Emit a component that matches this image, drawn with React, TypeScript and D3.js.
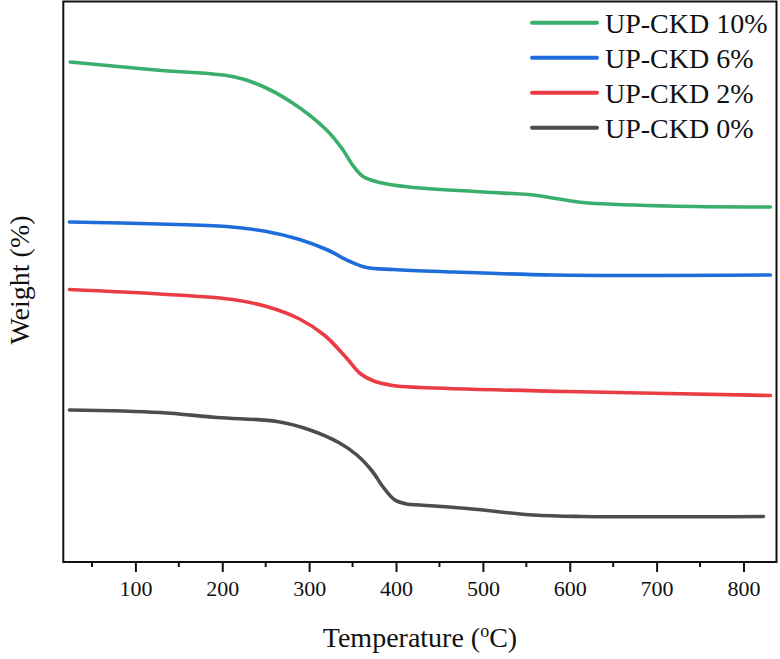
import { useEffect, useRef } from 'react';
import * as d3 from 'd3';

// TGA curves, offset weight values (arbitrary vertical units)
const temp10 = [25, 124, 212, 243, 281, 320, 339, 350, 362, 381, 415, 500, 558, 580, 615, 712, 831];
const wt10 = [100, 98.4, 97.1, 95.4, 91.8, 86.4, 82.4, 79.4, 77.1, 75.9, 75, 74, 73.4, 72.8, 71.9, 71.2, 71];

const temp6 = [24, 128, 205, 251, 289, 320, 347, 366, 397, 450, 581, 831];
const wt6 = [68, 67.6, 67.1, 66.1, 64.5, 62.5, 60.1, 58.9, 58.5, 58.1, 57.4, 57.4];

const temp2 = [24, 128, 212, 251, 289, 318, 343, 358, 373, 396, 428, 597, 831];
const wt2 = [54.5, 53.6, 52.5, 51.1, 48.6, 45.3, 40.8, 37.8, 36.3, 35.3, 34.9, 34.1, 33.3];

const temp0 = [24, 128, 194, 263, 301, 335, 355, 372, 386, 398, 412, 428, 482, 558, 615, 823];
const wt0 = [30.4, 29.9, 28.9, 28.1, 26.4, 23.8, 21.4, 18.3, 14.8, 12.5, 11.6, 11.4, 10.7, 9.4, 9.1, 9.1];

const seriesNames = ['UP-CKD 10%', 'UP-CKD 6%', 'UP-CKD 2%', 'UP-CKD 0%'];
const seriesColors = ['#3aae6c', '#1f6ddb', '#ea3d43', '#4d4d4d'];
const seriesTemps = [temp10, temp6, temp2, temp0];
const seriesWeights = [wt10, wt6, wt2, wt0];

const xTicks = [100, 200, 300, 400, 500, 600, 700, 800];
const xMinor = [50, 150, 250, 350, 450, 550, 650, 750];

const W = 780;
const H = 659;
const PLOT = { left: 63.3, right: 776.5, top: 1.5, bottom: 562 };
const FONT = '"Liberation Serif", "Times New Roman", serif';

export default function App() {
  const svgRef = useRef<SVGSVGElement>(null);

  useEffect(() => {
    const svg = d3.select(svgRef.current);
    svg.selectAll('*').remove();

    const x = d3.scaleLinear().domain([17, 838]).range([PLOT.left, PLOT.right]);
    const y = d3.scaleLinear().domain([0, 112]).range([PLOT.bottom, 2]);

    const line = d3
      .line<[number, number]>()
      .x((d) => x(d[0]))
      .y((d) => y(d[1]))
      .curve(d3.curveCatmullRom.alpha(0.5));

    seriesTemps.forEach((temps, i) => {
      const pts = temps.map((t, j) => [t, seriesWeights[i][j]] as [number, number]);
      svg
        .append('path')
        .attr('d', line(pts)!)
        .attr('fill', 'none')
        .attr('stroke', seriesColors[i])
        .attr('stroke-width', 3.6)
        .attr('stroke-linecap', 'round')
        .attr('stroke-linejoin', 'round');
    });

    // bottom axis, ticks pointing out
    const axis = svg.append('g').attr('transform', `translate(0,${PLOT.bottom})`);
    axis
      .call(d3.axisBottom(x).tickValues(xTicks).tickSize(10).tickPadding(8))
      .call((g) => {
        g.select('.domain').remove();
        g.selectAll('.tick line').attr('stroke', '#111').attr('stroke-width', 2);
        g.selectAll('.tick text')
          .attr('fill', '#111')
          .attr('font-size', 22)
          .attr('font-family', FONT);
      });
    axis
      .selectAll('line.minor')
      .data(xMinor)
      .join('line')
      .attr('class', 'minor')
      .attr('x1', (d) => x(d))
      .attr('x2', (d) => x(d))
      .attr('y1', 0)
      .attr('y2', 5)
      .attr('stroke', '#111')
      .attr('stroke-width', 2);

    // frame
    svg
      .append('rect')
      .attr('x', PLOT.left)
      .attr('y', PLOT.top)
      .attr('width', PLOT.right - PLOT.left)
      .attr('height', PLOT.bottom - PLOT.top)
      .attr('fill', 'none')
      .attr('stroke', '#111')
      .attr('stroke-width', 2);

    // legend
    const legend = svg.append('g');
    seriesNames.forEach((name, i) => {
      const ly = 22.7 + i * 35;
      legend
        .append('line')
        .attr('x1', 532)
        .attr('x2', 597)
        .attr('y1', ly)
        .attr('y2', ly)
        .attr('stroke', seriesColors[i])
        .attr('stroke-width', 4)
        .attr('stroke-linecap', 'round');
      legend
        .append('text')
        .attr('x', 605)
        .attr('y', ly + 10)
        .attr('font-size', 28)
        .attr('font-family', FONT)
        .attr('fill', '#111')
        .text(name);
    });

    // axis titles
    const xt = svg
      .append('text')
      .attr('x', 420)
      .attr('y', 647)
      .attr('text-anchor', 'middle')
      .attr('font-size', 28)
      .attr('font-family', FONT)
      .attr('fill', '#111');
    xt.append('tspan').text('Temperature (');
    xt.append('tspan').attr('font-size', 18).attr('dy', -10).text('o');
    xt.append('tspan').attr('dy', 10).text('C)');

    svg
      .append('text')
      .attr('transform', `translate(29,280) rotate(-90)`)
      .attr('text-anchor', 'middle')
      .attr('font-size', 28)
      .attr('font-family', FONT)
      .attr('fill', '#111')
      .text('Weight (%)');
  }, []);

  return (
    <svg
      ref={svgRef}
      width={W}
      height={H}
      style={{ position: 'absolute', left: 0, top: 0, background: '#fff' }}
    />
  );
}
